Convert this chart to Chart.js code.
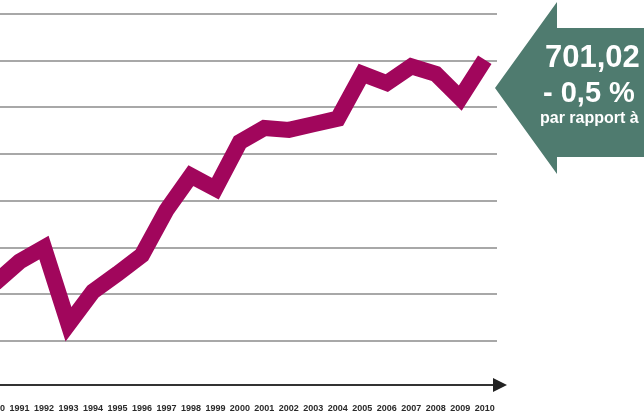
<!DOCTYPE html>
<html>
<head>
<meta charset="utf-8">
<script src="https://cdn.jsdelivr.net/npm/chart.js@4"></script>
<style>
  html, body { margin: 0; padding: 0; background: #fff; overflow: hidden; }
  #wrap { position: absolute; left: -5px; top: 0; width: 649px; height: 414px; }
</style>
</head>
<body>
<div id="wrap"><canvas id="chart" width="649" height="414"></canvas></div>
<script>
const years = [1990, 1991, 1992, 1993, 1994, 1995, 1996, 1997, 1998, 1999, 2000,
  2001, 2002, 2003, 2004, 2005, 2006, 2007, 2008, 2009, 2010];
const values = [462, 485, 500, 418, 453, 472, 492, 540, 577, 563, 613,
  628, 626, 632, 638, 686, 676, 694, 686, 660, 701];
const gridValues = [400, 450, 500, 550, 600, 650, 700, 750];
const calloutLines = ['701,02', '- 0,5 %', 'par rapport à'];

const SHIFT = 5; // canvas is moved 5px left, so 1990 sits just off the page

// horizontal rules, placed with the y scale
const rules = {
  id: 'rules',
  beforeDatasetsDraw(chart) {
    const ctx = chart.ctx;
    const a = chart.chartArea;
    const y = chart.scales.y;
    ctx.save();
    ctx.strokeStyle = '#a8a8a8';
    ctx.lineWidth = 2;
    gridValues.forEach(v => {
      const py = Math.round(y.getPixelForValue(v));
      ctx.beginPath();
      ctx.moveTo(0, py);
      ctx.lineTo(a.right, py);
      ctx.stroke();
    });
    ctx.restore();
  }
};

const callout = {
  id: 'callout',
  afterDraw(chart) {
    const ctx = chart.ctx;
    const a = chart.chartArea;
    ctx.save();
    ctx.translate(SHIFT, 0);

    // arrow head on the x axis
    ctx.fillStyle = '#222';
    ctx.beginPath();
    ctx.moveTo(493, a.bottom - 7);
    ctx.lineTo(507, a.bottom);
    ctx.lineTo(493, a.bottom + 7);
    ctx.closePath();
    ctx.fill();

    // big arrow pointing at the last value
    ctx.fillStyle = '#4f7b6f';
    ctx.beginPath();
    ctx.moveTo(495, 88);
    ctx.lineTo(557, 2);
    ctx.lineTo(557, 28);
    ctx.lineTo(650, 28);
    ctx.lineTo(650, 157);
    ctx.lineTo(557, 157);
    ctx.lineTo(557, 174);
    ctx.closePath();
    ctx.fill();

    ctx.fillStyle = '#fff';
    ctx.textBaseline = 'alphabetic';
    ctx.font = 'bold 31px "Liberation Sans", sans-serif';
    ctx.fillText(calloutLines[0], 545, 67);
    ctx.font = 'bold 29px "Liberation Sans", sans-serif';
    ctx.fillText(calloutLines[1], 543, 102);
    ctx.font = 'bold 16px "Liberation Sans", sans-serif';
    ctx.fillText(calloutLines[2], 540, 123);
    ctx.restore();
  }
};

new Chart(document.getElementById('chart'), {
  type: 'line',
  data: {
    datasets: [{
      data: years.map((y, i) => ({ x: y, y: values[i] })),
      borderColor: '#a1065c',
      borderWidth: 16,
      borderJoinStyle: 'miter',
      borderCapStyle: 'butt',
      pointRadius: 0,
      tension: 0,
      fill: false
    }]
  },
  options: {
    responsive: false,
    animation: false,
    events: [],
    layout: {
      autoPadding: false,
      padding: { top: 14, right: 147, left: 0, bottom: 0 }
    },
    plugins: {
      legend: { display: false },
      tooltip: { enabled: false }
    },
    scales: {
      x: {
        type: 'linear',
        min: 1990,
        max: 2010.5,
        grid: { display: false },
        border: { display: true, color: '#333', width: 2 },
        ticks: {
          autoSkip: false,
          maxRotation: 0,
          padding: 10,
          color: '#2a2a2a',
          font: { family: 'Liberation Sans', size: 9, weight: 'bold' },
          callback: v => String(v)
        },
        afterBuildTicks: s => { s.ticks = years.map(v => ({ value: v })); },
        afterFit: s => {
          s.height = 29;
          s.paddingLeft = 0;
          s.paddingRight = 0;
        }
      },
      y: {
        display: false,
        min: 353,
        max: 750
      }
    }
  },
  plugins: [rules, callout]
});
</script>
</body>
</html>
